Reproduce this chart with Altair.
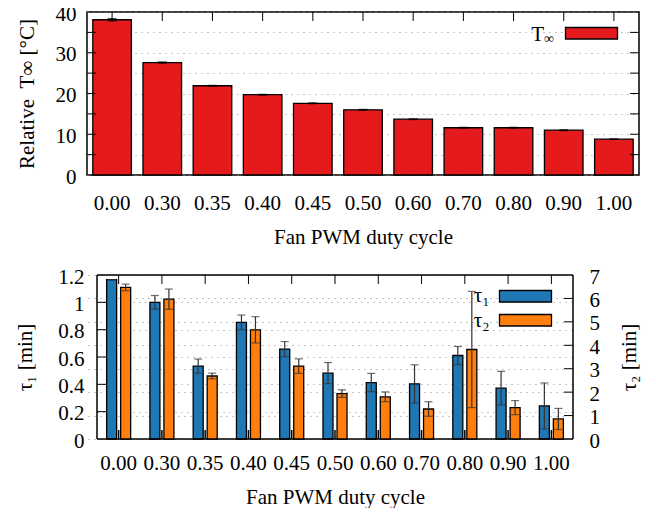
import altair as alt
import pandas as pd

# ---------------- data ----------------
duty = ["0.00", "0.30", "0.35", "0.40", "0.45", "0.50", "0.60", "0.70", "0.80", "0.90", "1.00"]
t_inf = [38.1, 27.6, 21.9, 19.7, 17.6, 16.0, 13.7, 11.6, 11.6, 11.0, 8.8]
t_inf_err = [0.3, 0.15, 0.1, 0.1, 0.1, 0.1, 0.1, 0.1, 0.1, 0.1, 0.05]
tau1 = [1.166, 1.0, 0.533, 0.853, 0.658, 0.482, 0.413, 0.403, 0.611, 0.372, 0.242]
tau1_err = [0.0, 0.05, 0.052, 0.054, 0.055, 0.077, 0.067, 0.14, 0.066, 0.123, 0.168]
tau2 = [6.47, 5.97, 2.69, 4.66, 3.11, 1.94, 1.80, 1.28, 3.82, 1.34, 0.855]
tau2_err = [0.14, 0.43, 0.12, 0.56, 0.31, 0.16, 0.21, 0.31, 2.48, 0.30, 0.45]
legend_top = ["T∞"]
series = ["τ₁", "τ₂"]
t_ticks = [0, 5, 10, 15, 20, 25, 30, 35, 40]
tau1_ticks = [0, 0.2, 0.4, 0.6, 0.8, 1.0, 1.2]
tau2_ticks = [0, 1, 2, 3, 4, 5, 6, 7]

FONT = "Liberation Serif"
RED, BLUE, ORANGE = "#e41a1c", "#1f77b4", "#ff7f0e"
FS = 21
GRID = dict(grid=True, gridDash=[1, 5], gridColor="#8c8c8c", gridWidth=1)
TL = 9  # inward tick length

# ---------------- top panel ----------------
W1, H1 = 552, 163
top_df = pd.DataFrame({"duty": duty, "T": t_inf, "err": t_inf_err})
top_df["lo"] = top_df["T"] - top_df["err"]
top_df["hi"] = top_df["T"] + top_df["err"]
xs1 = alt.Scale(domain=duty, paddingInner=0.231, paddingOuter=0.1155)
ys1 = alt.Scale(domain=[0, 40], nice=False)
XAX1 = alt.Axis(labelAngle=0, ticks=False, domain=False, labelPadding=17,
                titlePadding=13, labelOverlap=False)
YAX1 = alt.Axis(values=t_ticks, ticks=False, domain=False, labelPadding=11, labelOffset=2,
                titlePadding=18, **GRID)
XT1 = "Fan PWM duty cycle"
YT1 = "Relative\u00a0\u00a0T∞ [°C]"


def X1():
    return alt.X("duty:N", sort=duty, scale=xs1, title=XT1, axis=XAX1)


def Y1(field):
    return alt.Y(field, scale=ys1, title=YT1, axis=YAX1)


base1 = alt.Chart(top_df)
yt_df = pd.DataFrame({"v": t_ticks[1:-1]})
lt1 = alt.Chart(yt_df).mark_rule(color="black", strokeWidth=1).encode(
    y=Y1("v:Q"), x=alt.value(0), x2=alt.value(TL))
rt1 = alt.Chart(yt_df).mark_rule(color="black", strokeWidth=1).encode(
    y=Y1("v:Q"), x=alt.value(W1 - TL), x2=alt.value(W1))
tt1 = base1.mark_rule(color="black", strokeWidth=1).encode(
    x=X1(), y=alt.value(0), y2=alt.value(TL))
bars1 = base1.mark_bar(fill=RED, stroke="black", strokeWidth=1.3).encode(
    x=X1(), y=Y1("T:Q"))
err1 = base1.mark_rule(color="black", strokeWidth=1.2).encode(
    x=X1(), y=Y1("lo:Q"), y2="hi:Q")
caplo1 = base1.mark_tick(color="black", thickness=1.2, size=9).encode(x=X1(), y=Y1("lo:Q"))
caphi1 = base1.mark_tick(color="black", thickness=1.2, size=9).encode(x=X1(), y=Y1("hi:Q"))

leg1 = pd.DataFrame({"base": [legend_top[0][0]], "sub": [legend_top[0][1:]]})
leg1_box = alt.Chart(leg1).mark_rect(fill=RED, stroke="black", strokeWidth=1.3).encode(
    x=alt.value(478.5), x2=alt.value(530.5), y=alt.value(15.5), y2=alt.value(27))
leg1_t = alt.Chart(leg1).mark_text(font=FONT, fontSize=FS, align="right", baseline="alphabetic").encode(
    text="base:N", x=alt.value(457), y=alt.value(29))
leg1_s = alt.Chart(leg1).mark_text(font=FONT, fontSize=14, align="left", baseline="alphabetic").encode(
    text="sub:N", x=alt.value(457), y=alt.value(31))

top = alt.layer(bars1, lt1, rt1, tt1, err1, caplo1, caphi1, leg1_box, leg1_t, leg1_s).properties(
    width=W1, height=H1)

# ---------------- bottom panel ----------------
XR0 = 10            # the bottom frame starts 10 px right of the top frame
W2, H2 = 486, 164
dfA = pd.DataFrame({"duty": duty, "series": series[0], "v": tau1, "e": tau1_err})
dfB = pd.DataFrame({"duty": duty, "series": series[1], "v": tau2, "e": tau2_err})
for d in (dfA, dfB):
    d["lo"] = d["v"] - d["e"]
    d["hi"] = d["v"] + d["e"]

xs2 = alt.Scale(domain=duty, range=[XR0, W2], paddingInner=0.445, paddingOuter=0.2225)
xo = alt.Scale(domain=series, paddingInner=0.286, paddingOuter=0)
ysL = alt.Scale(domain=[0, 1.2], nice=False)
ysR = alt.Scale(domain=[0, 7], nice=False)
XAX2 = alt.Axis(labelAngle=0, ticks=False, domain=False, labelPadding=13,
                titlePadding=13, labelOverlap=False)
YAXL = alt.Axis(orient="left", values=tau1_ticks, format="~g", ticks=False, domain=False,
                offset=-XR0, labelPadding=13, titlePadding=22, labelOffset=2, **GRID)
YAXR = alt.Axis(orient="right", values=tau2_ticks, format="d", ticks=False, domain=False,
                labelPadding=16, titlePadding=19, titleAngle=270, titleBaseline="top",
                labelOffset=2, **GRID)


def X2():
    return alt.X("duty:N", sort=duty, scale=xs2, title=XT1, axis=XAX2)


def YL(field):
    return alt.Y(field, scale=ysL, title="τ₁ [min]", axis=YAXL)


def YR(field):
    return alt.Y(field, scale=ysR, title="τ₂ [min]", axis=YAXR)


XO = alt.XOffset("series:N", scale=xo)
frame_df = pd.DataFrame({"k": [0]})
FR = dict(color="black", strokeWidth=1.5)

# left-scale layer
ltL = alt.Chart(pd.DataFrame({"v": tau1_ticks[1:-1]})).mark_rule(color="black", strokeWidth=1).encode(
    y=YL("v:Q"), x=alt.value(XR0), x2=alt.value(XR0 + TL))
ttA = alt.Chart(dfA).mark_rule(color="black", strokeWidth=1).encode(
    x=X2(), y=alt.value(0), y2=alt.value(TL))
btA = alt.Chart(dfA).mark_rule(color="black", strokeWidth=1.5).encode(
    x=X2(), y=alt.value(H2 - TL), y2=alt.value(H2))
barsA = alt.Chart(dfA).mark_bar(fill=BLUE, stroke="black", strokeWidth=1.3).encode(
    x=X2(), xOffset=XO, y=YL("v:Q"))
errA = alt.Chart(dfA).mark_rule(color="#333333", strokeWidth=1.2).encode(
    x=X2(), xOffset=XO, y=YL("lo:Q"), y2="hi:Q")
capAlo = alt.Chart(dfA).mark_tick(color="#333333", thickness=1.2, size=8).encode(
    x=X2(), xOffset=XO, y=YL("lo:Q"))
capAhi = alt.Chart(dfA).mark_tick(color="#333333", thickness=1.2, size=8).encode(
    x=X2(), xOffset=XO, y=YL("hi:Q"))
frame = [
    alt.Chart(frame_df).mark_rule(**FR).encode(x=alt.value(XR0), y=alt.value(0), y2=alt.value(H2)),
    alt.Chart(frame_df).mark_rule(**FR).encode(x=alt.value(W2), y=alt.value(0), y2=alt.value(H2)),
    alt.Chart(frame_df).mark_rule(**FR).encode(y=alt.value(0), x=alt.value(XR0), x2=alt.value(W2)),
    alt.Chart(frame_df).mark_rule(**FR).encode(y=alt.value(H2), x=alt.value(XR0), x2=alt.value(W2)),
]
layerA = alt.layer(barsA, ltL, ttA, btA, errA, capAlo, capAhi, *frame)

# right-scale layer
rtR = alt.Chart(pd.DataFrame({"v": tau2_ticks[1:-1]})).mark_rule(color="black", strokeWidth=1).encode(
    y=YR("v:Q"), x=alt.value(W2 - TL), x2=alt.value(W2))
barsB = alt.Chart(dfB).mark_bar(fill=ORANGE, stroke="black", strokeWidth=1.3).encode(
    x=X2(), xOffset=XO, y=YR("v:Q"))
errB = alt.Chart(dfB).mark_rule(color="#333333", strokeWidth=1.2).encode(
    x=X2(), xOffset=XO, y=YR("lo:Q"), y2="hi:Q")
capBlo = alt.Chart(dfB).mark_tick(color="#333333", thickness=1.2, size=8).encode(
    x=X2(), xOffset=XO, y=YR("lo:Q"))
capBhi = alt.Chart(dfB).mark_tick(color="#333333", thickness=1.2, size=8).encode(
    x=X2(), xOffset=XO, y=YR("hi:Q"))

leg_layers = []
for i, (name, col) in enumerate(zip(series, [BLUE, ORANGE])):
    ld = pd.DataFrame({"label": [name]})
    y0 = 15.5 + 24 * i
    leg_layers.append(alt.Chart(ld).mark_rect(fill=col, stroke="black", strokeWidth=1.3).encode(
        x=alt.value(XR0 + 402.5), x2=alt.value(XR0 + 454.5), y=alt.value(y0), y2=alt.value(y0 + 11.5)))
    leg_layers.append(alt.Chart(ld).mark_text(font=FONT, fontSize=FS, align="left",
                                              baseline="alphabetic").encode(
        text="label:N", x=alt.value(XR0 + 376.7), y=alt.value(27 + 24.5 * i)))

layerB = alt.layer(barsB, rtR, errB, capBlo, capBhi, *leg_layers)

bottom = alt.layer(layerA, layerB, view=alt.ViewBackground(stroke="transparent")).resolve_scale(
    y="independent").properties(width=W2, height=H2)

chart = alt.vconcat(top, bottom, spacing=17).properties(
    padding={"left": 6, "top": -6, "right": 0, "bottom": 0}
).configure_view(stroke="black", strokeWidth=1.5).configure_axis(
    labelFont=FONT, titleFont=FONT, labelFontSize=FS, titleFontSize=FS,
    titleFontWeight="normal", labelColor="black", titleColor="black"
)

chart.save("out.html", embed_options={"renderer": "svg", "actions": False})
